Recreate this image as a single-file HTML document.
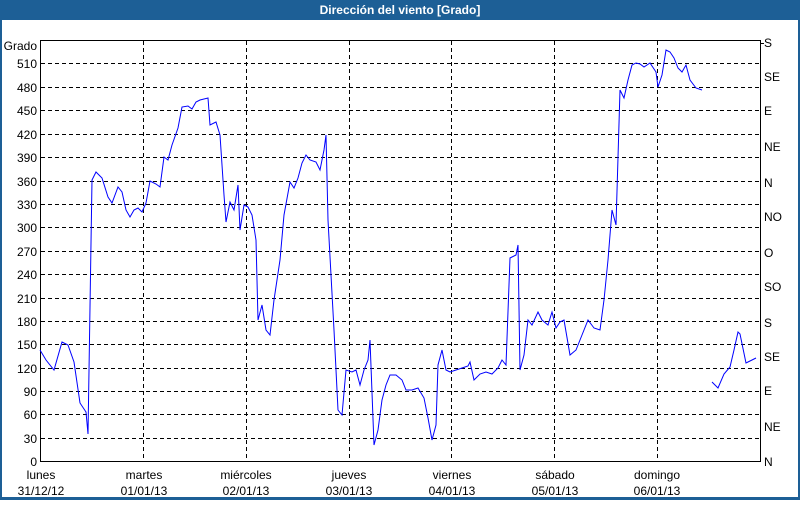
<!DOCTYPE html>
<html><head><meta charset="utf-8"><style>
html,body{margin:0;padding:0;background:#fff}
body{width:800px;height:500px;overflow:hidden;font-family:"Liberation Sans",Tahoma,sans-serif}
</style></head><body>
<svg width="800" height="500" xmlns="http://www.w3.org/2000/svg" font-family="Liberation Sans, sans-serif" font-size="12">
<rect x="0" y="0" width="800" height="500" fill="#1d5f96"/>
<rect x="2" y="20" width="796" height="477" fill="#fff"/>
<text x="400" y="14" fill="#fff" font-weight="bold" text-anchor="middle" font-size="12">Dirección del viento [Grado]</text>
<g stroke="#000" stroke-dasharray="4,3" stroke-width="1">
<line x1="41" x2="760" y1="63.5" y2="63.5"/><line x1="41" x2="760" y1="87.5" y2="87.5"/>
<line x1="41" x2="760" y1="110.5" y2="110.5"/><line x1="41" x2="760" y1="134.5" y2="134.5"/>
<line x1="41" x2="760" y1="157.5" y2="157.5"/><line x1="41" x2="760" y1="181.5" y2="181.5"/>
<line x1="41" x2="760" y1="204.5" y2="204.5"/><line x1="41" x2="760" y1="227.5" y2="227.5"/>
<line x1="41" x2="760" y1="251.5" y2="251.5"/><line x1="41" x2="760" y1="274.5" y2="274.5"/>
<line x1="41" x2="760" y1="298.5" y2="298.5"/><line x1="41" x2="760" y1="321.5" y2="321.5"/>
<line x1="41" x2="760" y1="344.5" y2="344.5"/><line x1="41" x2="760" y1="368.5" y2="368.5"/>
<line x1="41" x2="760" y1="391.5" y2="391.5"/><line x1="41" x2="760" y1="414.5" y2="414.5"/>
<line x1="41" x2="760" y1="438.5" y2="438.5"/>
<line x1="143.5" x2="143.5" y1="41" y2="461"/><line x1="246.5" x2="246.5" y1="41" y2="461"/>
<line x1="349.5" x2="349.5" y1="41" y2="461"/><line x1="451.5" x2="451.5" y1="41" y2="461"/>
<line x1="554.5" x2="554.5" y1="41" y2="461"/><line x1="657.5" x2="657.5" y1="41" y2="461"/>
</g>
<g stroke="#000" stroke-width="1" fill="none">
<polyline points="40.5,40 40.5,461.5 760.5,461.5 760.5,40"/>
<line x1="40" x2="760" y1="40.5" y2="40.5"/>
</g>
<g fill="#000" text-anchor="end">
<text x="37" y="50">Grado</text>
<text x="37" y="68">510</text><text x="37" y="92">480</text><text x="37" y="115">450</text>
<text x="37" y="139">420</text><text x="37" y="162">390</text><text x="37" y="186">360</text>
<text x="37" y="209">330</text><text x="37" y="232">300</text><text x="37" y="256">270</text>
<text x="37" y="279">240</text><text x="37" y="303">210</text><text x="37" y="326">180</text>
<text x="37" y="349">150</text><text x="37" y="373">120</text><text x="37" y="396">90</text>
<text x="37" y="419">60</text><text x="37" y="443">30</text><text x="37" y="466">0</text>
</g>
<g fill="#000">
<text x="764" y="47">S</text><text x="764" y="81">SE</text><text x="764" y="115">E</text>
<text x="764" y="151">NE</text><text x="764" y="187">N</text><text x="764" y="221">NO</text>
<text x="764" y="257">O</text><text x="764" y="291">SO</text><text x="764" y="327">S</text>
<text x="764" y="361">SE</text><text x="764" y="395">E</text><text x="764" y="431">NE</text>
<text x="764" y="466">N</text>
</g>
<g stroke="#000"><line x1="760" x2="764" y1="43.5" y2="43.5"/></g>
<g fill="#000" text-anchor="middle">
<text x="41" y="479">lunes</text><text x="41" y="495">31/12/12</text>
<text x="144" y="479">martes</text><text x="144" y="495">01/01/13</text>
<text x="246" y="479">miércoles</text><text x="246" y="495">02/01/13</text>
<text x="349" y="479">jueves</text><text x="349" y="495">03/01/13</text>
<text x="452" y="479">viernes</text><text x="452" y="495">04/01/13</text>
<text x="555" y="479">sábado</text><text x="555" y="495">05/01/13</text>
<text x="657" y="479">domingo</text><text x="657" y="495">06/01/13</text>
</g>
<g stroke="#0000ff" fill="none" stroke-width="1">
<polyline points="40,350 46,360 54,370 62,342 68,345 74,362 80,403 86,412 88,434 92,180 96,172 102,178 108,197 112,203 118,187 122,192 126,210 130,217 134,210 138,208 142,212 146,203 150,181 156,184 160,187 164,157 168,160 172,145 178,128 182,107 188,106 192,109 196,102 200,100 208,98 210,125 216,122 220,135 224,195 226,222 230,202 234,210 238,185 240,230 244,205 248,207 252,215 256,240 258,320 262,305 266,330 270,335 274,300 280,260 284,215 290,182 294,188 298,178 302,163 306,155 310,160 316,162 320,170 324,150 326,135 328,220 334,330 338,410 342,415 346,370 352,372 356,370 360,385 364,370 368,360 370,340 374,445 378,430 382,400 386,385 390,375 396,375 402,380 406,390 412,390 418,388 424,398 428,418 432,440 436,425 438,365 442,350 446,370 450,372 456,370 462,368 468,366 470,362 474,380 480,374 486,372 492,374 498,368 502,360 506,365 510,258 516,255 518,245 520,370 524,355 528,320 532,325 538,312 542,320 548,325 552,312 556,328 560,322 564,320 570,355 576,350 582,335 588,320 594,328 600,330 604,300 608,260 612,210 616,225 620,90 624,98 628,80 632,65 636,63 640,64 644,67 650,63 656,72 658,87 662,75 666,50 670,52 674,58 678,68 682,72 686,65 690,80 696,88 702,90"/>
<polyline points="712,382 718,388 724,374 730,367 734,350 738,332 740,334 746,363 752,360 756,358"/>
</g>
</svg>
</body></html>
